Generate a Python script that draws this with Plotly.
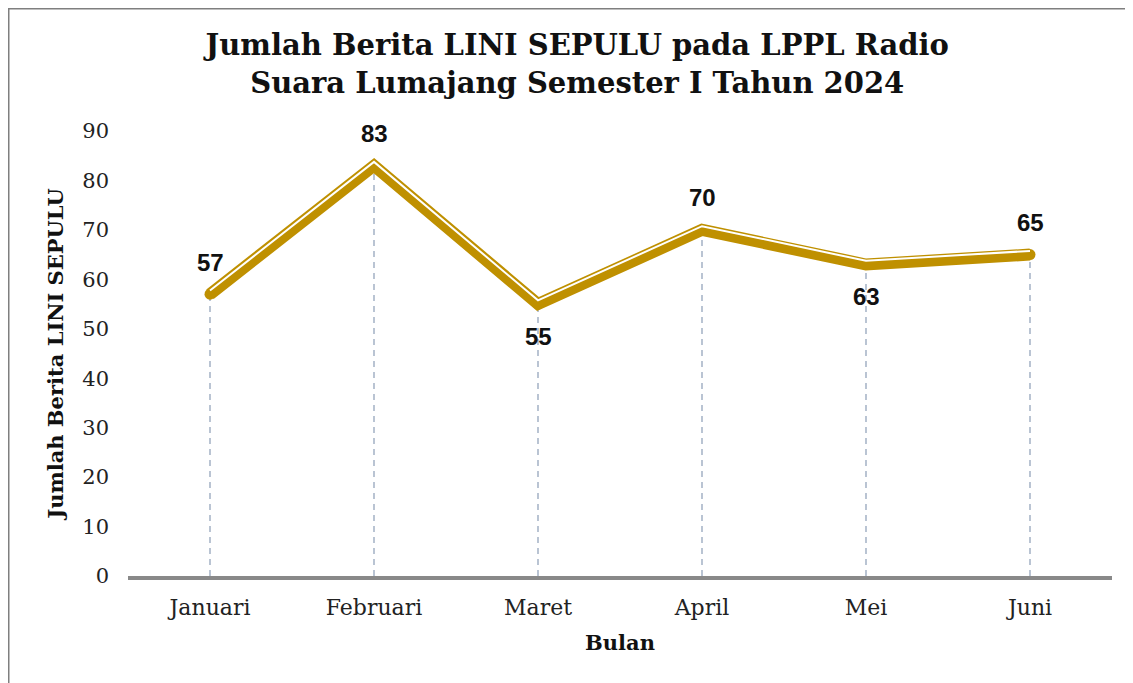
import plotly.graph_objects as go

months = ["Januari", "Februari", "Maret", "April", "Mei", "Juni"]
values = [57, 83, 55, 70, 63, 65]
label_side = ["top", "top", "bottom", "top", "bottom", "top"]
y_ticks = [0, 10, 20, 30, 40, 50, 60, 70, 80, 90]

GOLD = "#BF9000"
# page has an 8px body margin, so the figure is drawn 8px smaller
W, H = 1125, 675
ML, MR, MT, MB = 120, 21, 123, 107

fig = go.Figure()

# dashed drop lines
dx, dy = [], []
for m, v in zip(months, values):
    dx += [m, m, None]
    dy += [0, v, None]
fig.add_trace(go.Scatter(x=dx, y=dy, mode="lines",
                         line=dict(color="#A9B6C9", width=1.6, dash="6px,5px"),
                         hoverinfo="skip", showlegend=False))

# main gold line
fig.add_trace(go.Scatter(x=months, y=values, mode="lines+markers",
                         line=dict(color=GOLD, width=12),
                         marker=dict(color=GOLD, size=11, line=dict(width=0)),
                         showlegend=False))
# highlight (bevel) line
fig.add_trace(go.Scatter(x=months, y=[v + 0.75 for v in values], mode="lines",
                         line=dict(color="white", width=2),
                         hoverinfo="skip", showlegend=False))

for m, v, s in zip(months, values, label_side):
    fig.add_annotation(x=m, y=v, text=f"<b>{v}</b>", showarrow=False,
                       yshift=32 if s == "top" else -32,
                       font=dict(family="Liberation Sans, Arial, sans-serif", size=24, color="#111111"))

# outer border (only left and top edges are visible in the frame)
pw, ph = W - ML - MR, H - MT - MB
fig.add_shape(type="rect", xref="paper", yref="paper",
              x0=(0.75 - ML) / pw, x1=(W + 20 - ML) / pw,
              y0=(MB - (H + 20)) / ph, y1=(H - 0.75 - MB) / ph,
              line=dict(color="#7F7F7F", width=1.5), fillcolor="rgba(0,0,0,0)", layer="below")

fig.update_layout(
    width=W, height=H,
    margin=dict(l=ML, r=MR, t=MT, b=MB),
    paper_bgcolor="white", plot_bgcolor="white",
    title=dict(text="<b>Jumlah Berita LINI SEPULU pada LPPL Radio<br>Suara Lumajang Semester I Tahun 2024</b>",
               x=0.506, xanchor="center", y=0.93, yanchor="top",
               font=dict(family="DejaVu Serif", size=29, color="#111111")),
    xaxis=dict(range=[-0.5, 5.5], showgrid=False, showline=True, linecolor="#898989", linewidth=3.5,
               ticks="", ticklabelstandoff=9, zeroline=False,
               tickfont=dict(family="DejaVu Serif", size=22, color="#222222"),
               title=dict(text="<b>Bulan</b>", standoff=17,
                          font=dict(family="DejaVu Serif", size=21, color="#111111"))),
    yaxis=dict(range=[0, 90], tickvals=y_ticks, showgrid=False, showline=False, zeroline=False,
               ticks="", ticklabelstandoff=18,
               tickfont=dict(family="DejaVu Serif", size=21, color="#222222"),
               title=dict(text="<b>Jumlah Berita LINI SEPULU</b>", standoff=12,
                          font=dict(family="DejaVu Serif", size=21, color="#111111"))),
)

fig.write_html("out.html")
